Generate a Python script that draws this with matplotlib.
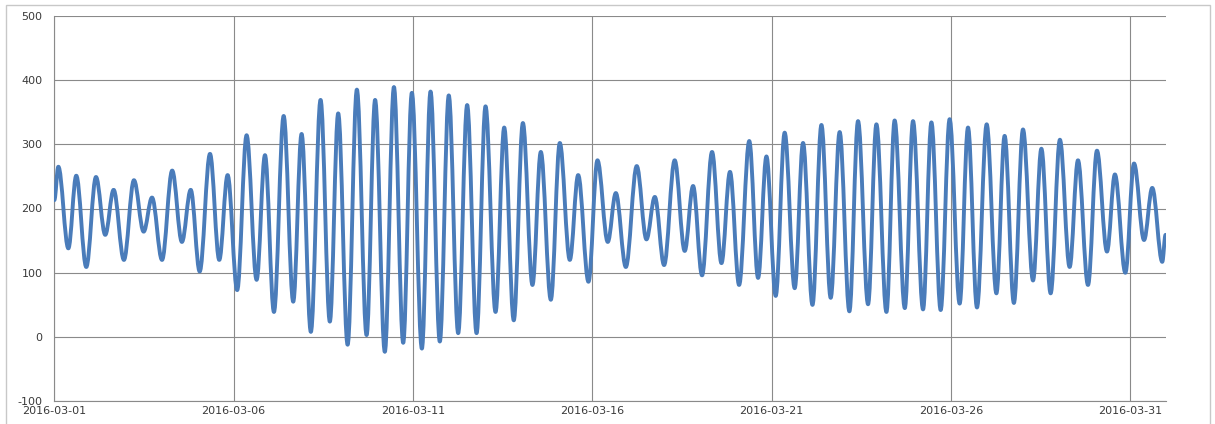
import matplotlib
matplotlib.use("Agg")
import matplotlib.pyplot as plt
import matplotlib.dates as mdates
from matplotlib.patches import Rectangle, PathPatch
from matplotlib.path import Path
import pandas as pd

plt.rcParams["axes.unicode_minus"] = False

# Hours since 2016-03-01 00:00 of each turning point (high / low water)
hours = [0.0, 2.7, 9.4, 14.7, 21.4, 27.9, 34.1, 39.7, 46.6, 53.3, 59.8, 65.4, 72.1,
         78.9, 85.4, 91.3, 97.3, 104.2, 110.4, 116.0, 122.4, 128.7, 135.4, 141.0,
         147.0, 153.5, 159.9, 165.5, 171.7, 178.2, 184.4, 190.0, 196.3, 202.5,
         209.0, 214.7, 221.2, 227.3, 233.5, 239.3, 246.0, 251.8, 258.0, 264.0,
         270.3, 276.3, 282.6, 288.6, 295.3, 301.1, 307.5, 313.6, 320.0, 325.6,
         332.3, 338.3, 345.0, 350.6, 357.5, 363.5, 370.4, 375.8, 382.5, 389.8,
         396.3, 401.9, 408.1, 415.2, 421.9, 427.5, 433.5, 440.2, 446.5, 452.2,
         458.3, 465.1, 471.0, 476.6, 482.8, 488.8, 495.5, 501.1, 507.4, 513.4,
         519.6, 525.6, 532.1, 537.9, 544.6, 550.2, 556.9, 562.4, 569.2, 574.7,
         581.4, 587.0, 593.2, 599.2, 605.9, 611.5, 617.5, 624.0, 630.5, 636.0,
         642.2, 648.3, 655.0, 660.6, 666.8, 673.0, 679.5, 685.1, 691.8, 697.8,
         704.5, 709.8, 716.8, 722.6, 729.3, 734.8, 741.5, 743.7]

levels = [213, 265, 138, 251, 109, 249, 159, 229, 120, 244, 164, 217, 120,
          259, 148, 229, 102, 285, 120, 252, 73, 314, 89, 283,
          39, 344, 55, 316, 8, 369, 24, 348, -12, 385,
          3, 369, -23, 389, -9, 380, -18, 382, -7, 376,
          6, 361, 6, 359, 39, 326, 26, 333, 81, 288,
          58, 302, 120, 252, 86, 275, 148, 224, 109, 266,
          152, 218, 112, 275, 134, 235, 96, 288, 115, 257,
          81, 305, 92, 281, 64, 318, 76, 302, 50, 330,
          61, 319, 40, 336, 51, 331, 39, 337, 45, 336,
          43, 334, 42, 339, 52, 326, 46, 331, 68, 313,
          53, 323, 88, 293, 68, 307, 109, 275, 81, 290,
          133, 253, 100, 270, 151, 232, 117, 159]

tick_dates = ["2016-03-01", "2016-03-06", "2016-03-11", "2016-03-16",
              "2016-03-21", "2016-03-26", "2016-03-31"]
y_ticks = [-100, 0, 100, 200, 300, 400, 500]

start = pd.Timestamp("2016-03-01")
times = [start + pd.Timedelta(hours=h) for h in hours]

W, H = 1215, 424
fig = plt.figure(figsize=(W / 100, H / 100), dpi=100)
fig.patch.set_facecolor("white")

# outer chart border (bottom edge runs off the picture, as in the original)
fig.patches.append(Rectangle((6 / W, -5 / H), (1210 - 6) / W, (419 + 5) / H,
                             transform=fig.transFigure, fill=False,
                             edgecolor="#c8c8c8", linewidth=1.0))

ax = fig.add_axes([54.3 / W, (H - 401.3) / H, (1166 - 54.3) / W, (401.3 - 15.7) / H])
ax.xaxis_date()

# smooth curve through the turning points (Bezier rendering, horizontal tangents at extremes)
xs = mdates.date2num(times)
k = 0.36
verts = [(xs[0], levels[0])]
codes = [Path.MOVETO]
for i in range(len(xs) - 1):
    dt = xs[i + 1] - xs[i]
    verts += [(xs[i] + k * dt, levels[i]), (xs[i + 1] - k * dt, levels[i + 1]),
              (xs[i + 1], levels[i + 1])]
    codes += [Path.CURVE4] * 3
ax.add_patch(PathPatch(Path(verts, codes), fill=False, edgecolor="#4a7cba",
                       linewidth=2.8, joinstyle="round", capstyle="round", zorder=3))

ax.set_xlim(mdates.date2num(pd.Timestamp("2016-03-01")),
            mdates.date2num(pd.Timestamp("2016-04-01")))
ax.set_ylim(-100, 500)
ax.set_yticks(y_ticks)
ax.set_xticks(mdates.date2num([pd.Timestamp(d) for d in tick_dates]))
ax.xaxis.set_major_formatter(mdates.DateFormatter("%Y-%m-%d"))

ax.grid(True, color="#8a8a8a", linewidth=0.8)
ax.set_axisbelow(True)
for s in ["top", "right"]:
    ax.spines[s].set_visible(False)
for s in ["left", "bottom"]:
    ax.spines[s].set_color("#8a8a8a")
    ax.spines[s].set_linewidth(0.8)

ax.tick_params(axis="both", length=0, labelsize=8, colors="#3a3a3a")
ax.tick_params(axis="y", pad=8.5)
ax.tick_params(axis="x", pad=3.5)

fig.savefig("out.png", dpi=100)
